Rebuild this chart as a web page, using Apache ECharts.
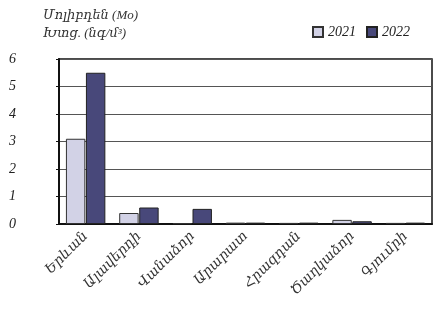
<!DOCTYPE html>
<html>
<head>
<meta charset="utf-8">
<script src="https://cdn.jsdelivr.net/npm/echarts@6/dist/echarts.min.js"></script>
<style>
html,body{margin:0;padding:0;background:#fff;}
#main{width:433px;height:309px;}
</style>
</head>
<body>
<div id="main"></div>
<script>
// 城市
var cities = ['Երևան', 'Ալավերդի', 'Վանաձոր', 'Արարատ', 'Հրազդան', 'Ծաղկաձոր', 'Գյումրի'];
var years = ['2021', '2022'];
var val2021 = [3.1, 0.4, 0.03, 0.05, 0.04, 0.15, 0.04];
var val2022 = [5.5, 0.6, 0.55, 0.05, 0.05, 0.1, 0.05];
var yTicks = [0, 1, 2, 3, 4, 5, 6];

var font = "'Liberation Serif', 'DejaVu Serif', serif";

var myChart = echarts.init(document.getElementById('main'));
var option = {
    animation: false,
    title: {
        text: 'Մոլիբդեն (Mo)\nԽտց. (նգ/մ³)',
        left: 38,
        top: 2,
        textStyle: {
            fontFamily: font,
            fontStyle: 'italic',
            fontWeight: 'normal',
            fontSize: 13,
            lineHeight: 18,
            color: '#333'
        }
    },
    legend: {
        data: years,
        right: 18,
        top: 20,
        icon: 'rect',
        itemWidth: 10,
        itemHeight: 10,
        itemGap: 10,
        textStyle: {fontFamily: font, fontStyle: 'italic', fontSize: 14, color: '#222'}
    },
    grid: {
        left: 59,
        right: 1,
        top: 59,
        bottom: 85,
        show: true,
        borderColor: '#111',
        borderWidth: 1.5
    },
    xAxis: {
        type: 'category',
        data: cities,
        axisLine: {lineStyle: {color: '#111', width: 2}},
        axisTick: {show: false},
        axisLabel: {
            interval: 0,
            rotate: 45,
            margin: 10,
            fontFamily: font,
            fontStyle: 'italic',
            fontSize: 14,
            color: '#333'
        }
    },
    yAxis: {
        type: 'value',
        min: yTicks[0],
        max: yTicks[yTicks.length - 1],
        interval: 1,
        axisLine: {show: true, lineStyle: {color: '#111', width: 2}},
        axisTick: {show: true, length: 3, lineStyle: {color: '#111'}},
        axisLabel: {
            margin: 50,
            align: 'left',
            fontFamily: font,
            fontStyle: 'italic',
            fontSize: 14,
            color: '#222'
        },
        splitLine: {show: true, lineStyle: {color: '#555', width: 1}}
    },
    series: [
        {
            name: '2021',
            type: 'bar',
            barGap: '3%',
            barCategoryGap: '26%',
            data: val2021,
            itemStyle: {color: '#d2d2e6', borderColor: '#333', borderWidth: 1}
        },
        {
            name: '2022',
            type: 'bar',
            data: val2022,
            itemStyle: {color: '#48487a', borderColor: '#222', borderWidth: 1}
        }
    ]
};
myChart.setOption(option);
</script>
</body>
</html>
